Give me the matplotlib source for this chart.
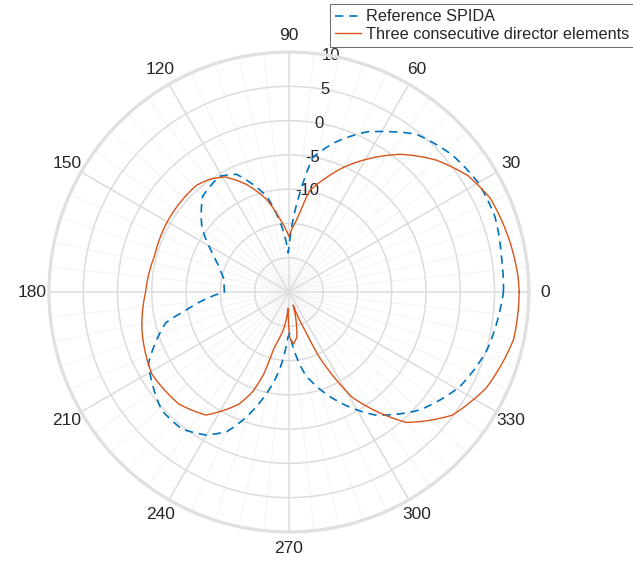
import numpy as np
import matplotlib
matplotlib.use("Agg")
import matplotlib.pyplot as plt

# ---- data (angle in degrees, gain in dB) ----
ref_angles = [0, 9, 20, 30, 40, 51, 59, 64, 73, 80, 83.5, 89, 91, 95.5, 103, 114, 121,
              132, 143, 153, 160, 169, 180, 190, 194, 201, 207, 223, 232, 240, 246, 251,
              260, 263, 268.7, 271, 281, 290, 305, 318, 331, 343.5, 355, 360]
ref_gain = [6.3, 6.4, 7.0, 6.9, 6.1, 4.6, 2.3, 1.0, -2.2, -5.1, -10.2, -17.4, -19.3, -15.9,
            -10.7, -6.2, -5.3, -6.2, -9.1, -12.5, -14.2, -15.4, -15.6, -9.8, -6.5, -4.1,
            -2.0, 0.35, 0.37, -0.9, -2.7, -5.6, -11.4, -13.5, -18.4, -19.0, -12.8, -9.2,
            -3.1, 0.7, 3.5, 5.1, 5.9, 6.3]

dir_angles = [0, 4, 14, 25, 33, 42, 51, 59.5, 66, 72, 78.4, 81.7, 84, 90, 97, 103.6,
              111.6, 119, 125, 131, 149, 165, 180, 194.6, 211, 225.6, 236, 246, 250, 253,
              255, 258, 261.5, 267.5, 271, 275, 280, 288, 292.8, 295, 301, 312, 323, 334,
              348, 360]
dir_gain = [8.6, 8.5, 8.0, 7.4, 6.15, 3.8, 0.85, -2.5, -5.0, -7.5, -9.9, -13.0, -14.5,
            -16.9, -14.3, -11.1, -8.1, -5.8, -4.9, -4.4, -4.5, -4.7, -4.1, -2.85, -1.7,
            -2.1, -3.35, -7.1, -9.5, -12.5, -16.5, -18.0, -19.4, -22.6, -18.4, -17.4,
            -18.3, -23.0, -18.9, -14.6, -7.1, 0.6, 4.85, 7.0, 8.5, 8.6]

series_labels = ["Reference SPIDA", "Three consecutive director elements"]
r_ticks = [-25, -20, -15, -10, -5, 0, 5, 10]
r_tick_labels = ["", "", "", "-10", "-5", "0", "5", "10"]
theta_ticks = list(range(0, 360, 30))
theta_tick_labels = [str(t) for t in theta_ticks]

# ---- style ----
plt.rcParams['font.family'] = ['Liberation Sans', 'DejaVu Sans']
txt = '#262626'

fig = plt.figure(figsize=(6.33, 5.62), dpi=100)
ax = fig.add_axes([0.0774, 0.0534, 0.758, 0.854], projection='polar')

ax.set_theta_zero_location('E')
ax.set_theta_direction(1)
ax.set_rlim(-25, 10)

# minor theta grid
for t in np.arange(0, 360, 6):
    if t % 30 != 0:
        ax.plot([np.deg2rad(t)] * 2, [-25, 10], color='#f3f3f3', lw=0.7, zorder=0.5)

ax.set_thetagrids(theta_ticks, theta_tick_labels, fontsize=12.5, color=txt)
ax.set_rgrids(r_ticks, r_tick_labels, angle=80, fontsize=12, color=txt)
for lab in ax.get_yticklabels():
    lab.set_ha('center')
    lab.set_va('center')
ax.tick_params(axis='x', pad=1.5)
ax.grid(True, color='#dcdcdc', lw=1.1)
ax.spines['polar'].set_color('#e0e0e0')
ax.spines['polar'].set_linewidth(2.4)

l1, = ax.plot(np.deg2rad(ref_angles), ref_gain, color='#0072BD', lw=1.2,
              linestyle=(0, (5, 3.5)), label=series_labels[0], zorder=3)
l2, = ax.plot(np.deg2rad(dir_angles), dir_gain, color='#D95319', lw=1.0,
              label=series_labels[1], zorder=3)
# draw segments along polar arcs (rendering only)
for ln in (l1, l2):
    ln.get_path()._interpolation_steps = 40

leg = fig.legend(loc='upper left', bbox_to_anchor=(0.521, 0.992), fontsize=11.7,
                 frameon=True, fancybox=False, borderaxespad=0.0,
                 handlelength=1.6, handletextpad=0.3, borderpad=0.3,
                 labelspacing=0.15)
leg.get_frame().set_edgecolor('#262626')
leg.get_frame().set_linewidth(0.6)
for t in leg.get_texts():
    t.set_color(txt)

fig.savefig('out.png', dpi=100)
